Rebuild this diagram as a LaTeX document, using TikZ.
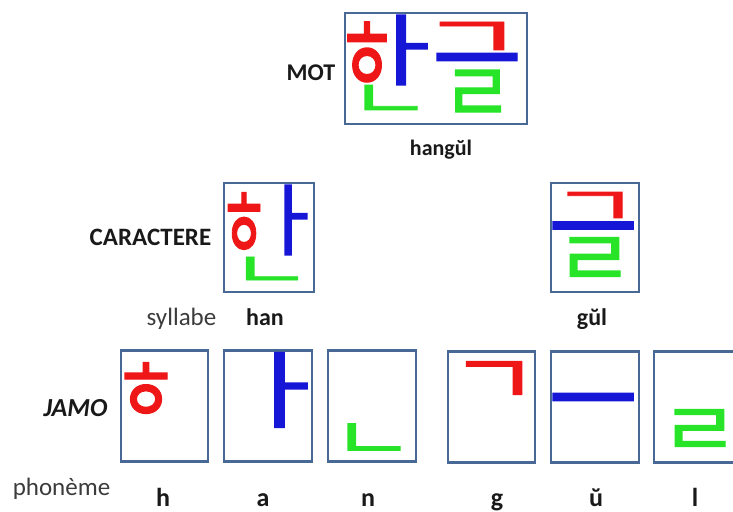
\documentclass[tikz,border=0pt]{standalone}
\usepackage{fontspec}
\usepackage{graphicx}
\setmainfont{Carlito}
\newfontfamily\krfont{Noto Sans CJK KR}[FakeBold=1.5]
\definecolor{cred}{RGB}{238,22,22}
\definecolor{cblue}{RGB}{22,22,215}
\definecolor{cgreen}{RGB}{40,228,40}
\definecolor{boxc}{RGB}{72,104,150}
\definecolor{txt}{RGB}{25,25,25}
% #1 ink width, #2 ink height, #3 colour, #4 jamo
\newcommand\jm[4]{\begingroup\krfont\fontsize{100}{100}\selectfont\color{#3}%
  \dimen0=\XeTeXglyphbounds1 \XeTeXcharglyph`#4\relax
  \dimen2=\XeTeXglyphbounds3 \XeTeXcharglyph`#4\relax
  \dimen4=\XeTeXglyphbounds2 \XeTeXcharglyph`#4\relax
  \dimen6=\XeTeXglyphbounds4 \XeTeXcharglyph`#4\relax
  \setbox0=\hbox{\kern-\dimen0 \raise\dimen6\hbox{#4}\kern-\dimen2}%
  \dimen8=\dimen4 \advance\dimen8 by \dimen6
  \ht0=\dimen8 \dp0=0pt
  \resizebox*{#1pt}{#2pt}{\box0}\endgroup}
\begin{document}
\begin{tikzpicture}[x=1pt,y=-1pt,
  box/.style={draw=boxc, line width=2.4pt, inner sep=0pt},
  comp/.style={inner sep=0pt, outer sep=0pt},
  lab/.style={inner sep=0pt, anchor=base, text=txt, font=\bfseries\fontsize{24}{24}\selectfont},
  lightlab/.style={inner sep=0pt, anchor=base, text=txt!85, font=\fontsize{25}{25}\selectfont}]
\useasboundingbox (0,0) rectangle (733,511);
\clip (0,0) rectangle (733,511);
% boxes
\node[box, minimum width=182pt, minimum height=111pt] (mot) at (436,68.5) {};
\node[box, minimum width=90pt, minimum height=109pt] (han) at (269,237.5) {};
\node[box, minimum width=88pt, minimum height=109pt] (gul) at (595,237.5) {};
\node[box, minimum width=87pt, minimum height=111pt] (jh) at (164.5,406) {};
\node[box, minimum width=88pt, minimum height=111pt] (ja) at (268,406) {};
\node[box, minimum width=88pt, minimum height=111pt] (jn) at (372,406) {};
\node[box, minimum width=87pt, minimum height=111pt] (jk) at (491.5,407) {};
\node[box, minimum width=88pt, minimum height=111pt] (ju) at (595,407) {};
\node[box, minimum width=88pt, minimum height=111pt] (jl) at (698,407) {};
% word
\node[comp] (m1) at (367,52) {\jm{39}{60}{cred}{ㅎ}};
\node[comp] (m2) at (412,50) {\jm{30}{70}{cblue}{ㅏ}};
\node[comp] (m3) at (391,97.5) {\jm{52}{25}{cgreen}{ㄴ}};
\node[comp] (m4) at (472,36) {\jm{63}{28}{cred}{ㄱ}};
\node[comp] (m5) at (477,57) {\jm{80}{7}{cblue}{ㅡ}};
\node[comp] (m6) at (478,91) {\jm{45}{42}{cgreen}{ㄹ}};
% syllables
\node[comp] (s1) at (244,221) {\jm{32}{57}{cred}{ㅎ}};
\node[comp] (s2) at (296,220) {\jm{22}{70}{cblue}{ㅏ}};
\node[comp] (s3) at (272,268.5) {\jm{51}{23}{cgreen}{ㄴ}};
\node[comp] (s4) at (595,205) {\jm{54}{26}{cred}{ㄱ}};
\node[comp] (s5) at (593,225.5) {\jm{80}{7}{cblue}{ㅡ}};
\node[comp] (s6) at (595,257) {\jm{50}{39}{cgreen}{ㄹ}};
% jamo
\node[comp] (j1) at (146,388) {\jm{42}{51}{cred}{ㅎ}};
\node[comp] (j2) at (291,390) {\jm{32}{75}{cblue}{ㅏ}};
\node[comp] (j3) at (374,437) {\jm{52}{27}{cgreen}{ㄴ}};
\node[comp] (j4) at (494,378) {\jm{55}{33}{cred}{ㄱ}};
\node[comp] (j5) at (593,397) {\jm{80}{7}{cblue}{ㅡ}};
\node[comp] (j6) at (700,428) {\jm{50}{37}{cgreen}{ㄹ}};
% labels
\node[lab] (tmot) at (311,80) {MOT};
\node[lab, font=\bfseries\fontsize{22}{22}\selectfont] (thangul) at (441,155) {hangŭl};
\node[lab, font=\bfseries\fontsize{25}{25}\selectfont] (tcar) at (150.5,245) {CARACTERE};
\node[lightlab] (tsyl) at (181.5,325) {syllabe};
\node[lab] (than) at (265,325) {han};
\node[lab] (tgul) at (592,325) {gŭl};
\node[lab, font=\bfseries\itshape\fontsize{26}{26}\selectfont] (tjamo) at (75.5,416) {JAMO};
\node[lightlab, font=\fontsize{25}{25}\selectfont] (tpho) at (61.5,495) {phonème};
\node[lab, font=\bfseries\fontsize{26}{26}\selectfont] (ph) at (163,506) {h};
\node[lab, font=\bfseries\fontsize{26}{26}\selectfont] (pa) at (263,506) {a};
\node[lab, font=\bfseries\fontsize{26}{26}\selectfont] (pn) at (368,506) {n};
\node[lab, font=\bfseries\fontsize{26}{26}\selectfont] (pg) at (497,506) {g};
\node[lab, font=\bfseries\fontsize{26}{26}\selectfont] (pu) at (596,506) {ŭ};
\node[lab, font=\bfseries\fontsize{26}{26}\selectfont] (pl) at (695,506) {l};
\end{tikzpicture}
\end{document}
